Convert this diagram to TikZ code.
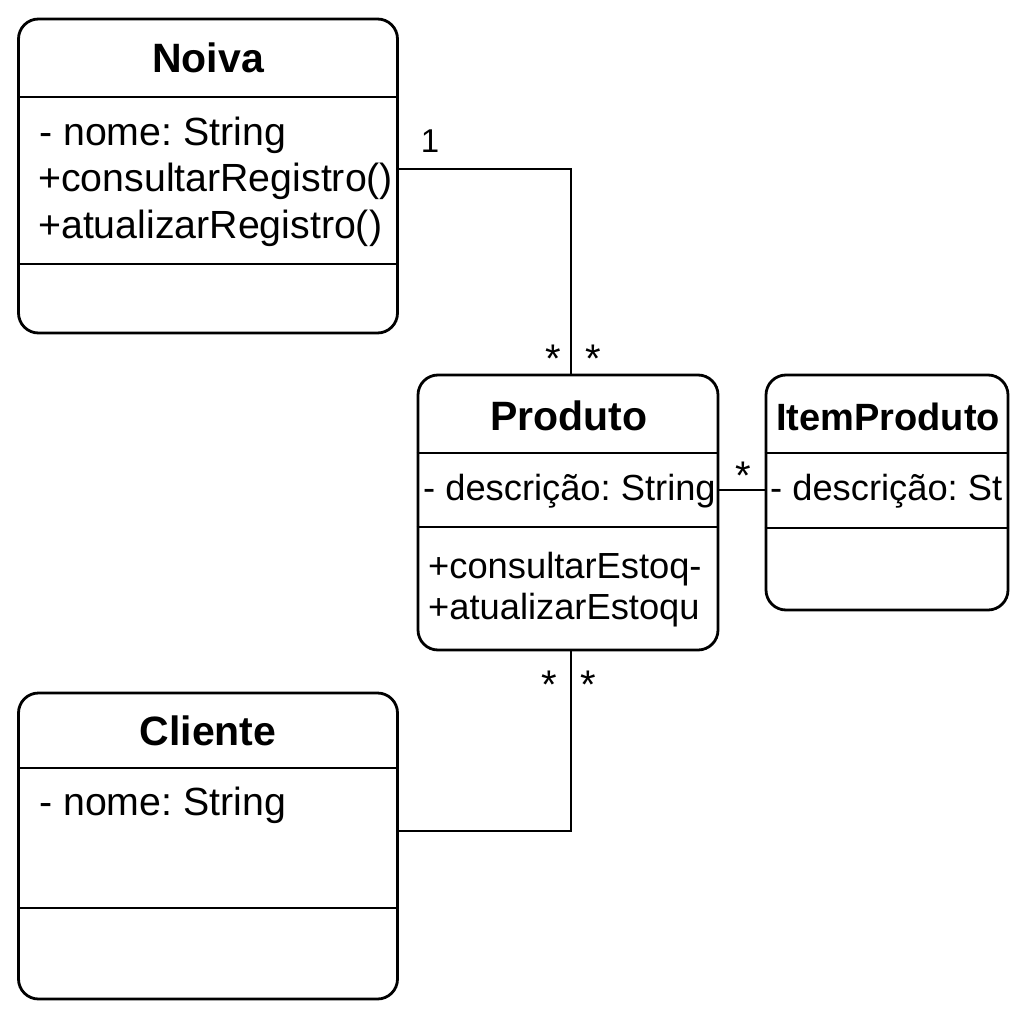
\documentclass[tikz,border=0pt]{standalone}
\usepackage{fontspec}
\setmainfont{Liberation Sans}
\frenchspacing
\begin{document}
\begin{tikzpicture}[x=1pt,y=-1pt,
  classbox/.style={draw=black,line width=2.8pt,rounded corners=20pt,inner sep=0pt,fill=white},
  sepline/.style={line width=2.8pt},
  conn/.style={line width=2.8pt},
  ttl/.style={anchor=base,inner sep=0pt,font=\fontsize{41}{45}\selectfont\bfseries},
  attrA/.style={anchor=base west,inner sep=0pt,font=\fontsize{39.3}{45}\selectfont},
  attrB/.style={anchor=base west,inner sep=0pt,font=\fontsize{36.3}{40}\selectfont},
  mult/.style={anchor=base,inner sep=0pt,font=\fontsize{33}{36}\selectfont},
  star/.style={anchor=base,inner sep=0pt,font=\fontsize{40}{42}\selectfont}]
\useasboundingbox[fill=white] (0,0) rectangle (1024,1024);

% Noiva
\node[classbox,minimum width=379pt,minimum height=314pt] (noiva) at (208,176) {};
\draw[sepline] (noiva.west |- 0,97) -- (noiva.east |- 0,97);
\draw[sepline] (noiva.west |- 0,264) -- (noiva.east |- 0,264);
\node[ttl] (noivaT) at (208,73) {Noiva};
\node[attrA] (noivaA1) at (39,146) {- nome: String};
\node[attrA] (noivaA2) at (38,192) {+consultarRegistro()};
\node[attrA] (noivaA3) at (38,238) {+atualizarRegistro()};

% Produto
\node[classbox,minimum width=300pt,minimum height=275pt] (produto) at (568,512.5) {};
\draw[sepline] (produto.west |- 0,453) -- (produto.east |- 0,453);
\draw[sepline] (produto.west |- 0,527) -- (produto.east |- 0,527);
\node[ttl] (produtoT) at (569,430) {Produto};
\node[attrB] (produtoA1) at (423,500) {- descrição: String};
\node[attrB] (produtoA2) at (428,578) {+consultarEstoq-};
\node[attrB] (produtoA3) at (428,619) {+atualizarEstoqu};

% ItemProduto
\node[classbox,minimum width=242pt,minimum height=235pt] (item) at (887,492.5) {};
\draw[sepline] (item.west |- 0,453) -- (item.east |- 0,453);
\draw[sepline] (item.west |- 0,528) -- (item.east |- 0,528);
\node[ttl,font=\fontsize{38}{42}\selectfont\bfseries] (itemT) at (888,430) {ItemProduto};
\node[attrB] (itemA1) at (770,500) {- descrição: St};

% Cliente
\node[classbox,minimum width=379pt,minimum height=306pt] (cliente) at (208,846) {};
\draw[sepline] (cliente.west |- 0,768) -- (cliente.east |- 0,768);
\draw[sepline] (cliente.west |- 0,908) -- (cliente.east |- 0,908);
\node[ttl] (clienteT) at (208,745) {Cliente};
\node[attrA] (clienteA1) at (39,815) {- nome: String};

% Connectors
\draw[conn] (noiva.east |- 0,169) -| ([xshift=3pt]produto.north);
\draw[conn] (cliente.east |- 0,831) -| ([xshift=3pt]produto.south);
\draw[conn] (produto.east |- 0,490) -- (item.west |- 0,490);

% Multiplicities
\node[mult] (m1) at (430,153) {1};
\node[star] (m2) at (553,372) {*};
\node[star] (m3) at (593,372) {*};
\node[star] (m4) at (549,698) {*};
\node[star] (m5) at (588,698) {*};
\node[star] (m6) at (743,489) {*};
\end{tikzpicture}
\end{document}
